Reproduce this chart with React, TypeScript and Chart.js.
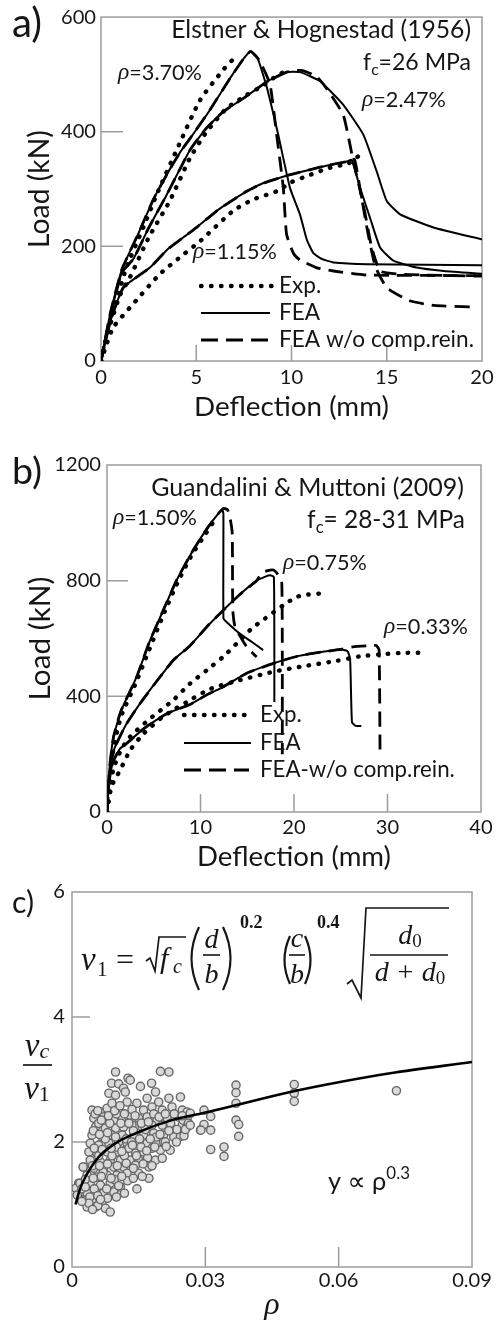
import React, { useEffect, useRef } from 'react';
import { Chart, registerables } from 'chart.js';

Chart.register(...registerables);

type P = [number, number];

const SANS = 'Lato, "Open Sans", "DejaVu Sans", sans-serif';
const SERIF = '"Liberation Serif", "DejaVu Serif", serif';
const INK = '#161616';
const FRAME = '#9c9c9c';

// ---------------- Panel a: Elstner & Hognestad (1956) ----------------
const aXTicks = [0, 5, 10, 15, 20];
const aYTicks = [0, 200, 400, 600];

const aExp370: P[] = [[0, 0], [0.3, 45], [0.82, 105], [1.3, 160], [2.22, 233], [2.92, 290], [3.97, 368], [5.2, 455], [6.42, 508], [6.95, 527]];
const aFea370: P[] = [[0, 0], [0.5, 85], [1.1, 160], [2, 225], [2.75, 282], [3.5, 328], [4.15, 364], [4.67, 388], [5.72, 438], [6.77, 493], [7.5, 528], [7.85, 540], [8.2, 530], [8.7, 478], [9.3, 395], [9.92, 302], [10.45, 255], [10.8, 212], [11.15, 188], [11.6, 178], [12.2, 172], [14, 169], [20, 167]];
const aDash370: P[] = [[0, 0], [0.5, 85], [1.1, 160], [2, 225], [2.75, 282], [3.5, 328], [4.15, 364], [4.67, 388], [5.72, 438], [6.77, 493], [7.5, 528], [7.85, 540], [8.3, 525], [8.87, 483], [9.22, 395], [9.57, 302], [9.74, 221], [10.1, 188], [10.45, 176], [11.3, 163], [12.2, 157], [13.95, 150], [20, 149]];

const aExp247: P[] = [[0, 0], [0.5, 65], [1, 115], [1.52, 146], [2.5, 215], [3.62, 280], [4.67, 354], [5.55, 400], [6.6, 441], [7.65, 464], [8.52, 481], [9.2, 497], [9.75, 507]];
const aFea247: P[] = [[0, 0], [0.5, 80], [1.1, 155], [1.7, 178], [2.5, 232], [3.45, 290], [4.67, 368], [5.5, 405], [6.42, 435], [7.47, 458], [8.7, 487], [9.75, 504], [10.45, 504], [11.5, 488], [12.72, 447], [13.77, 395], [14.47, 331], [15.0, 279], [15.7, 256], [17.45, 233], [20, 212]];
const aDash247: P[] = [[0, 0], [0.5, 80], [1.1, 155], [1.7, 178], [2.5, 232], [3.45, 290], [4.67, 368], [5.5, 405], [6.42, 435], [7.47, 458], [8.7, 487], [9.75, 504], [10.5, 507], [11.3, 497], [11.85, 475], [12.72, 429], [13.25, 348], [13.77, 273], [14.21, 198], [14.65, 157], [15.5, 152], [17, 150], [20, 148]];

const aExp115: P[] = [[0, 0], [0.3, 30], [0.65, 59], [1.7, 100], [3.1, 152], [4.3, 185], [5.2, 209], [6.94, 262], [8, 282], [9.22, 296], [10, 312], [11, 325], [12, 337], [13, 345], [13.5, 357]];
const aFea115: P[] = [[0, 0], [0.5, 70], [1.17, 128], [2.57, 163], [3.5, 195], [4.3, 215], [5.02, 233], [6.2, 265], [7.65, 296], [8.5, 310], [9.92, 325], [11, 334], [12.0, 342], [12.9, 348], [13.16, 351], [13.6, 302], [14.12, 250], [14.65, 198], [15.35, 175], [16.57, 163], [18, 157], [20, 152]];
const aDash115: P[] = [[0, 0], [0.5, 70], [1.17, 128], [2.57, 163], [3.5, 195], [4.3, 215], [5.02, 233], [6.2, 265], [7.65, 296], [8.5, 310], [9.92, 325], [11, 334], [12.0, 342], [12.9, 348], [13.3, 352], [13.6, 300], [14.0, 225], [14.4, 165], [15.0, 128], [16.2, 105], [17.5, 97], [19.6, 94]];

// ---------------- Panel b: Guandalini & Muttoni (2009) ----------------
const bXTicks = [0, 10, 20, 30, 40];
const bYTicks = [0, 400, 800, 1200];

const bExp150: P[] = [[0, 0], [0.3, 110], [0.7, 220], [1.5, 330], [3, 440], [4.5, 560], [6, 680], [7.5, 790], [9, 885], [10.5, 960], [11.73, 1020]];
const bFea150: P[] = [[0, 0], [0.3, 160], [0.7, 260], [1.5, 350], [3.17, 467], [4.5, 585], [6.02, 698], [7.5, 805], [9.23, 906], [10.8, 985], [12.0, 1035], [12.35, 1045], [12.45, 1030], [12.45, 670], [12.7, 660], [14.2, 617], [15.5, 588], [16.7, 560]];
const bDash150: P[] = [[0, 0], [0.3, 160], [0.7, 260], [1.5, 350], [3.17, 467], [4.5, 585], [6.02, 698], [7.5, 805], [9.23, 906], [10.8, 985], [12.0, 1035], [12.5, 1050], [12.9, 1045], [13.2, 1010], [13.4, 960], [13.45, 700], [13.7, 640], [14.94, 571], [16.0, 536]];

const bExp075: P[] = [[0, 0], [0.3, 80], [0.7, 150], [1.5, 215], [2.46, 260], [4.5, 320], [7.09, 387], [8.88, 444], [10.66, 490], [12.44, 537], [14.22, 594], [15.5, 635], [16.9, 669], [18.86, 715], [20.3, 744], [21.5, 752], [23.1, 756]];
const bFea075: P[] = [[0, 0], [0.3, 150], [0.8, 220], [2, 300], [3.53, 375], [5.5, 460], [7.09, 525], [8.88, 575], [10.66, 640], [12.44, 698], [14.2, 752], [16.0, 800], [17.0, 815], [17.43, 819], [17.85, 812], [17.9, 380]];
const bDash075: P[] = [[0, 0], [0.3, 150], [0.8, 220], [2, 300], [3.53, 375], [5.5, 460], [7.09, 525], [8.88, 575], [10.66, 640], [12.44, 698], [14.2, 752], [16.0, 800], [16.5, 825], [17.2, 835], [17.8, 837], [18.2, 825], [18.7, 790], [18.75, 200]];

const bExp033: P[] = [[0, 0], [0.2, 40], [0.5, 90], [1.39, 144], [2.5, 215], [3.88, 270], [6, 330], [8.52, 380], [11, 425], [14.2, 456], [17.8, 485], [21, 504], [24.6, 523], [27, 538], [29.2, 545], [31.5, 550], [33.8, 551]];
const bFea033: P[] = [[0, 0], [0.2, 100], [0.6, 170], [1.39, 219], [2.1, 237], [4, 290], [6.38, 340], [8.88, 372], [10.66, 405], [12.44, 433], [14.94, 480], [17.8, 514], [20.5, 540], [22.5, 551], [24.9, 562], [25.7, 557], [26.0, 530], [26.2, 310], [26.6, 298], [27.2, 297]];
const bDash033: P[] = [[0, 0], [0.2, 100], [0.6, 170], [1.39, 219], [2.1, 237], [4, 290], [6.38, 340], [8.88, 372], [10.66, 405], [12.44, 433], [14.94, 480], [17.8, 514], [20.5, 540], [22.5, 551], [24.9, 562], [26.3, 571], [28.0, 575], [28.8, 576], [29.1, 560], [29.2, 210]];

// ---------------- Panel c: normalised shear strength vs rho ----------------
const cXTicks = [0, 0.03, 0.06, 0.09];
const cYTicks = [0, 2, 4, 6];

const cFit: P[] = [[0.0008, 1.0], [0.0018, 1.25], [0.003, 1.44], [0.006, 1.76], [0.0098, 1.98], [0.015, 2.16], [0.0225, 2.35], [0.0293, 2.46], [0.0341, 2.54], [0.0491, 2.8], [0.0603, 2.96], [0.0716, 3.1], [0.09, 3.28]];

const cTests: P[] = [
  [0.0098, 3.12], [0.0126, 3.02], [0.0131, 2.99], [0.0199, 3.13], [0.0218, 3.12],
  [0.0089, 2.94], [0.0105, 2.93], [0.0116, 2.86], [0.0154, 2.89], [0.0179, 2.94],
  [0.0083, 2.78], [0.0098, 2.75], [0.012, 2.8], [0.0188, 2.8], [0.0169, 2.7], [0.0195, 2.64], [0.0218, 2.7], [0.0244, 2.72],
  [0.0045, 2.51], [0.0064, 2.48], [0.0079, 2.54], [0.009, 2.62], [0.0105, 2.48], [0.0124, 2.64], [0.0146, 2.62], [0.0161, 2.51], [0.018, 2.56], [0.0203, 2.51], [0.0225, 2.56], [0.0248, 2.51], [0.0259, 2.48],
  [0.0049, 2.38], [0.0071, 2.4], [0.0094, 2.35], [0.0113, 2.4], [0.0131, 2.43], [0.015, 2.38], [0.0169, 2.4], [0.0191, 2.35], [0.0214, 2.38], [0.024, 2.4], [0.0259, 2.38],
  [0.0053, 2.24], [0.0075, 2.22], [0.0098, 2.22], [0.0116, 2.24], [0.0135, 2.27], [0.0158, 2.24], [0.018, 2.27], [0.0203, 2.27], [0.0225, 2.22], [0.0248, 2.27], [0.0259, 2.24], [0.0289, 2.19],
  [0.0045, 2.11], [0.0068, 2.08], [0.009, 2.11], [0.0113, 2.11], [0.0139, 2.11], [0.0161, 2.11], [0.0184, 2.14], [0.0206, 2.11], [0.0229, 2.08], [0.0244, 2.09],
  [0.0041, 1.98], [0.006, 1.95], [0.0083, 1.98], [0.0105, 2.0], [0.0124, 1.98], [0.0146, 2.0], [0.0169, 1.98], [0.0191, 1.98], [0.0206, 2.0],
  [0.0038, 1.84], [0.0056, 1.82], [0.0079, 1.84], [0.0101, 1.84], [0.012, 1.87], [0.0143, 1.82], [0.0161, 1.84], [0.0199, 1.87], [0.0221, 1.87],
  [0.0041, 1.71], [0.0064, 1.68], [0.0086, 1.71], [0.0109, 1.71], [0.0131, 1.71], [0.015, 1.71], [0.0188, 1.71], [0.0203, 1.74],
  [0.0026, 1.6], [0.0049, 1.58], [0.0071, 1.58], [0.0094, 1.6], [0.0116, 1.6], [0.0143, 1.63], [0.0173, 1.6],
  [0.0034, 1.47], [0.0056, 1.44], [0.0079, 1.47], [0.0101, 1.47], [0.0124, 1.5], [0.015, 1.5], [0.0173, 1.42],
  [0.0015, 1.34], [0.0041, 1.34], [0.0064, 1.31], [0.0086, 1.34], [0.0109, 1.28], [0.0146, 1.25],
  [0.0019, 1.2], [0.0034, 1.18], [0.0053, 1.2], [0.0071, 1.18], [0.0094, 1.2],
  [0.0026, 1.07], [0.0045, 1.07], [0.0068, 1.04],
  [0.0034, 0.96], [0.0053, 0.96], [0.0075, 0.94], [0.0086, 0.88],
  [0.0009, 1.26], [0.0018, 1.34], [0.0025, 1.6],
  [0.006, 2.3], [0.0085, 2.3], [0.011, 2.3], [0.0138, 2.18], [0.0165, 2.2], [0.019, 2.08], [0.0075, 2.05], [0.01, 1.92], [0.0128, 1.9], [0.0155, 1.92], [0.018, 1.9],
  [0.006, 1.78], [0.009, 1.78], [0.0118, 1.78], [0.0145, 1.78], [0.017, 1.75], [0.007, 1.52], [0.0095, 1.4], [0.0125, 1.38], [0.005, 1.25], [0.0078, 1.25], [0.004, 1.12], [0.0058, 0.98], [0.0022, 1.25],
  [0.01, 2.45], [0.0135, 2.52], [0.023, 2.45], [0.021, 2.0], [0.0235, 2.0], [0.025, 2.35], [0.0262, 2.3], [0.0252, 2.1],
  [0.0052, 2.45], [0.0058, 2.5], [0.0066, 2.35], [0.0082, 2.42], [0.0096, 2.5], [0.0108, 2.58], [0.0118, 2.45], [0.0128, 2.3], [0.0142, 2.42], [0.0156, 2.3], [0.0172, 2.32], [0.0184, 2.45], [0.0196, 2.4], [0.021, 2.45], [0.0222, 2.3], [0.0236, 2.2], [0.0248, 2.42], [0.0255, 2.2],
  [0.0048, 2.18], [0.0062, 2.12], [0.008, 2.15], [0.0098, 2.08], [0.0122, 2.05], [0.0134, 2.0], [0.0152, 2.05], [0.0176, 2.05], [0.0198, 2.12], [0.0218, 2.18],
  [0.005, 1.9], [0.0068, 1.88], [0.0088, 1.9], [0.0112, 1.85], [0.0136, 1.95], [0.0168, 1.86], [0.0186, 1.92], [0.0212, 1.93],
  [0.0046, 1.62], [0.0062, 1.62], [0.008, 1.65], [0.0102, 1.62], [0.0122, 1.66], [0.0138, 1.58], [0.016, 1.65], [0.018, 1.62],
  [0.003, 1.4], [0.0048, 1.42], [0.0066, 1.45], [0.0088, 1.42], [0.0112, 1.45], [0.0138, 1.42], [0.0158, 1.45],
  [0.0012, 1.15], [0.003, 1.28], [0.0058, 1.14], [0.008, 1.1], [0.01, 1.12], [0.0038, 1.02], [0.0064, 1.08], [0.0046, 0.92], [0.0022, 1.05], [0.0105, 1.3], [0.0118, 1.18],
  [0.0266, 2.46], [0.0266, 2.27], [0.0297, 2.51], [0.0312, 2.41], [0.0297, 2.28], [0.029, 2.19], [0.0312, 2.19], [0.0312, 1.88], [0.0342, 1.92], [0.0342, 1.77],
  [0.0369, 2.91], [0.0369, 2.79], [0.0369, 2.62], [0.0369, 2.35], [0.0375, 2.28], [0.0375, 2.09],
  [0.05, 2.92], [0.05, 2.78], [0.05, 2.65], [0.073, 2.82],
];

// ---------------- helpers ----------------
const toXY = (d: P[]) => d.map(([x, y]) => ({ x, y }));

let measurer: CanvasRenderingContext2D | null = null;
function textW(text: string, font: string): number {
  if (!measurer) measurer = document.createElement('canvas').getContext('2d');
  measurer!.font = font;
  return measurer!.measureText(text).width;
}
// font size (px) that makes `text` span `target` pixels
function fitSize(text: string, family: string, target: number, style = ''): number {
  return (100 * target) / textW(text, `${style} 100px ${family}`);
}

function lineDs(d: P[], kind: 'dot' | 'solid' | 'dash') {
  const base: any = {
    data: toXY(d), showLine: true, pointRadius: 0, pointHoverRadius: 0, fill: false,
    borderColor: '#000', tension: 0.15,
  };
  if (kind === 'dot') return { ...base, borderWidth: 4.4, borderDash: [0.5, 9.5], borderCapStyle: 'round', tension: 0.2 };
  if (kind === 'dash') return { ...base, borderWidth: 2.8, borderDash: [15, 8], borderCapStyle: 'butt' };
  return { ...base, borderWidth: 2 };
}

type Part = { t: string; fam: string; s: number; st?: string; dy?: number };
const fontOf = (p: Part, k: number) => `${p.st || ''} ${p.s * k}px ${p.fam}`;
// draws a run of text pieces; when `target` is given the run is scaled to that width
function parts(ctx: CanvasRenderingContext2D, ps: Part[], x: number, y: number, align: 'left' | 'right' | 'center' = 'left', target?: number) {
  ctx.textAlign = 'left';
  ctx.textBaseline = 'middle';
  let k = 1;
  if (target) {
    const tot = ps.reduce((a, p) => a + textW(p.t, fontOf(p, 1)), 0);
    k = target / tot;
  }
  const ws = ps.map((p) => textW(p.t, fontOf(p, k)));
  const total = ws.reduce((a, b) => a + b, 0);
  let cx = align === 'left' ? x : align === 'right' ? x - total : x - total / 2;
  ps.forEach((p, i) => { ctx.font = fontOf(p, k); ctx.fillText(p.t, cx, y + (p.dy || 0) * k); cx += ws[i]; });
}

function rhoLabel(ctx: CanvasRenderingContext2D, rest: string, x: number, y: number) {
  parts(ctx, [{ t: 'ρ', fam: SERIF, st: 'italic', s: 25 }, { t: rest, fam: SANS, s: 23 }], x, y, 'left', 84);
}

function sample(ctx: CanvasRenderingContext2D, kind: 'dot' | 'solid' | 'dash', x1: number, x2: number, y: number) {
  ctx.save();
  ctx.beginPath();
  ctx.strokeStyle = '#000';
  if (kind === 'dot') { ctx.lineWidth = 4.4; ctx.setLineDash([0.5, 9.5]); ctx.lineCap = 'round'; }
  else if (kind === 'dash') { ctx.lineWidth = 2.8; ctx.setLineDash([17, 8]); ctx.lineCap = 'butt'; }
  else { ctx.lineWidth = 2; }
  ctx.moveTo(x1, y); ctx.lineTo(x2, y); ctx.stroke();
  ctx.restore();
}

function txt(ctx: CanvasRenderingContext2D, t: string, x: number, y: number, f: string, align: CanvasTextAlign = 'left') {
  ctx.font = f; ctx.textAlign = align; ctx.textBaseline = 'alphabetic'; ctx.fillText(t, x, y);
}

function seg(ctx: CanvasRenderingContext2D, pts: number[][], w = 1.5) {
  ctx.beginPath(); ctx.lineWidth = w;
  pts.forEach(([x, y], i) => (i ? ctx.lineTo(x, y) : ctx.moveTo(x, y)));
  ctx.stroke();
}

function paren(ctx: CanvasRenderingContext2D, x: number, top: number, bot: number, bulge: number) {
  ctx.beginPath(); ctx.lineWidth = 2.2;
  ctx.moveTo(x, top); ctx.quadraticCurveTo(x + bulge, (top + bot) / 2, x, bot); ctx.stroke();
}

function legend(ctx: CanvasRenderingContext2D, x1: number, x2: number, tx: number, ys: number[], last: string) {
  sample(ctx, 'dot', x1, x2 + 2, ys[0]);
  sample(ctx, 'solid', x1, x2, ys[1]);
  sample(ctx, 'dash', x1, x2 - 2, ys[2]);
  const s = fitSize(last, SANS, 195);
  parts(ctx, [{ t: 'Exp.', fam: SANS, s }], tx, ys[0]);
  parts(ctx, [{ t: 'FEA', fam: SANS, s }], tx, ys[1]);
  parts(ctx, [{ t: last, fam: SANS, s }], tx, ys[2]);
}

// ---------------- overlays ----------------
function drawA(ctx: CanvasRenderingContext2D) {
  ctx.save(); ctx.fillStyle = INK;
  parts(ctx, [{ t: 'a)', fam: SANS, s: 32 }], 12, 24, 'left', 30);
  parts(ctx, [{ t: 'Elstner & Hognestad (1956)', fam: SANS, s: 25 }], 471, 30, 'right', 300);
  parts(ctx, [{ t: 'f', fam: SANS, s: 25 }, { t: 'c', fam: SANS, s: 17, dy: 8 }, { t: '=26 MPa', fam: SANS, s: 25 }], 471, 63, 'right', 108);
  rhoLabel(ctx, '=3.70%', 118, 73);
  rhoLabel(ctx, '=2.47%', 362, 100);
  rhoLabel(ctx, '=1.15%', 193, 252);
  legend(ctx, 201, 270, 279, [286, 313, 340], 'FEA w/o comp.rein.');
  ctx.restore();
}

function drawB(ctx: CanvasRenderingContext2D) {
  ctx.save(); ctx.fillStyle = INK;
  parts(ctx, [{ t: 'b)', fam: SANS, s: 32 }], 12, 52, 'left', 30);
  parts(ctx, [{ t: 'Guandalini & Muttoni (2009)', fam: SANS, s: 25 }], 464, 68, 'right', 313);
  parts(ctx, [{ t: 'f', fam: SANS, s: 25 }, { t: 'c', fam: SANS, s: 17, dy: 8 }, { t: '= 28-31 MPa', fam: SANS, s: 25 }], 465, 100, 'right', 158);
  rhoLabel(ctx, '=1.50%', 113, 98);
  rhoLabel(ctx, '=0.75%', 283, 143);
  rhoLabel(ctx, '=0.33%', 384, 207);
  legend(ctx, 184, 251, 260, [295, 323, 350], 'FEA-w/o comp.rein.');
  ctx.restore();
}

function drawC(ctx: CanvasRenderingContext2D) {
  ctx.save(); ctx.fillStyle = INK; ctx.strokeStyle = INK;
  parts(ctx, [{ t: 'c)', fam: SANS, s: 32 }], 12, 33, 'left', 22);
  const it = (s: number) => `italic ${s}px ${SERIF}`;
  const rm = (s: number) => `${s}px ${SERIF}`;
  // v1 = sqrt(fc) (d/b)^0.2 (c/b)^0.4 sqrt(d0/(d+d0))
  txt(ctx, 'v', 81, 100, it(33));
  txt(ctx, '1', 97, 106, rm(21));
  txt(ctx, '=', 116, 100, rm(32));
  seg(ctx, [[146, 91], [150, 88], [155, 101], [159, 67], [186, 67]], 1.7);
  txt(ctx, 'f', 160, 98, it(30));
  txt(ctx, 'c', 173, 103, it(20));
  paren(ctx, 199, 57, 120, -15);
  txt(ctx, 'd', 211.5, 78, it(28), 'center');
  seg(ctx, [[203, 85], [220, 85]], 1.6);
  txt(ctx, 'b', 211.5, 113, it(28), 'center');
  paren(ctx, 223, 57, 120, 15);
  txt(ctx, '0.2', 240, 58, `bold 18px ${SERIF}`);
  paren(ctx, 290, 66, 114, -11);
  txt(ctx, 'c', 297, 77, it(28), 'center');
  seg(ctx, [[289, 85], [305, 85]], 1.6);
  txt(ctx, 'b', 297, 113, it(28), 'center');
  paren(ctx, 305, 66, 114, 11);
  txt(ctx, '0.4', 317, 58, `bold 18px ${SERIF}`);
  seg(ctx, [[347, 114], [352, 110], [361, 128], [366, 38], [449, 38]], 1.7);
  parts(ctx, [{ t: 'd', fam: SERIF, st: 'italic', s: 28, dy: -11 }, { t: '0', fam: SERIF, s: 19, dy: -6 }], 410, 78, 'center');
  seg(ctx, [[370, 85], [448, 85]], 1.6);
  parts(ctx, [{ t: 'd + d', fam: SERIF, st: 'italic', s: 28, dy: -11 }, { t: '0', fam: SERIF, s: 19, dy: -6 }], 410, 115, 'center');
  // y-axis title  v_c / v_1
  parts(ctx, [{ t: 'v', fam: SERIF, st: 'italic', s: 33, dy: -8 }, { t: 'c', fam: SERIF, st: 'italic', s: 22, dy: -3 }], 37, 185, 'center');
  seg(ctx, [[23, 195], [52, 195]], 1.7);
  parts(ctx, [{ t: 'v', fam: SERIF, st: 'italic', s: 33, dy: -8 }, { t: '1', fam: SERIF, s: 22, dy: -3 }], 37, 228, 'center');
  // power law note
  parts(ctx, [{ t: 'y ∝ ρ', fam: SANS, s: 24 }, { t: '0.3', fam: SANS, s: 16, dy: -8 }], 328, 312, 'left', 82);
  ctx.restore();
}

// ---------------- chart config builder ----------------
function framePlugin(xIn: number[], yIn: number[], xLen: number, yLen: number) {
  return {
    id: 'frameTicks',
    beforeDatasetsDraw(chart: any) {
      const { ctx, chartArea: a, scales } = chart;
      ctx.save();
      ctx.strokeStyle = FRAME; ctx.lineWidth = 1.5;
      ctx.strokeRect(a.left, a.top, a.right - a.left, a.bottom - a.top);
      ctx.beginPath();
      xIn.forEach((v) => { const px = scales.x.getPixelForValue(v); ctx.moveTo(px, a.bottom); ctx.lineTo(px, a.bottom - xLen); });
      yIn.forEach((v) => { const py = scales.y.getPixelForValue(v); ctx.moveTo(a.left, py); ctx.lineTo(a.left + yLen, py); });
      ctx.stroke();
      ctx.restore();
    },
  };
}

function axis(ticks: number[], min: number, max: number, fit: (s: any) => void, pad: number, title: any, pos: 'x' | 'y') {
  const size = fitSize('600', SANS, 35);
  return {
    type: 'linear', position: pos === 'x' ? 'bottom' : 'left', min, max,
    afterBuildTicks: (s: any) => { s.ticks = ticks.map((v) => ({ value: v })); },
    afterFit: fit,
    grid: { display: false, drawTicks: false },
    border: { display: false },
    ticks: { color: INK, font: { family: SANS, size, lineHeight: 1.2 }, padding: pad, maxRotation: 0, autoSkip: false, callback: (v: any) => String(v) },
    title,
  };
}

function sansTitle(text: string, left: boolean, target: number, centre: number) {
  const size = fitSize(text, SANS, target);
  // distance from the outer edge of the axis box to the title centre
  const pad = centre - size / 2;
  return {
    display: true, text, color: INK,
    font: { family: SANS, size, lineHeight: 1 },
    padding: left ? { top: pad, bottom: 0 } : { top: 0, bottom: pad },
  };
}

function configA() {
  return {
    type: 'scatter',
    data: {
      datasets: [
        lineDs(aDash370, 'dash'), lineDs(aDash247, 'dash'), lineDs(aDash115, 'dash'),
        lineDs(aFea370, 'solid'), lineDs(aFea247, 'solid'), lineDs(aFea115, 'solid'),
        lineDs(aExp370, 'dot'), lineDs(aExp247, 'dot'), lineDs(aExp115, 'dot'),
      ],
    },
    options: {
      responsive: false, animation: false, devicePixelRatio: 1, events: [],
      layout: { padding: { top: 15, right: 21, left: 0, bottom: 0 } },
      plugins: { legend: { display: false }, tooltip: { enabled: false } },
      scales: {
        x: axis(aXTicks, 0, 20, (s: any) => { s.height = 59; }, 4, sansTitle('Deflection (mm)', false, 195, 13), 'x'),
        y: axis(aYTicks, 0, 600, (s: any) => { s.width = 101; }, 5, sansTitle('Load (kN)', true, 118, 40), 'y'),
      },
    },
    plugins: [framePlugin(aXTicks.slice(1, -1), aYTicks.slice(1, -1), 16, 22), { id: 'ovA', afterDraw: (c: any) => drawA(c.ctx) }],
  };
}

function configB() {
  return {
    type: 'scatter',
    data: {
      datasets: [
        lineDs(bDash150, 'dash'), lineDs(bDash075, 'dash'), lineDs(bDash033, 'dash'),
        lineDs(bFea150, 'solid'), lineDs(bFea075, 'solid'), lineDs(bFea033, 'solid'),
        lineDs(bExp150, 'dot'), lineDs(bExp075, 'dot'), lineDs(bExp033, 'dot'),
      ],
    },
    options: {
      responsive: false, animation: false, devicePixelRatio: 1, events: [],
      layout: { padding: { top: 45, right: 22, left: 0, bottom: 0 } },
      plugins: { legend: { display: false }, tooltip: { enabled: false } },
      scales: {
        x: axis(bXTicks, 0, 40, (s: any) => { s.height = 58; }, 3, sansTitle('Deflection (mm)', false, 194, 13), 'x'),
        y: axis(bYTicks, 0, 1200, (s: any) => { s.width = 107; }, 6, sansTitle('Load (kN)', true, 124, 40), 'y'),
      },
    },
    plugins: [framePlugin(bXTicks.slice(1, -1), bYTicks.slice(1, -1), 18, 21), { id: 'ovB', afterDraw: (c: any) => drawB(c.ctx) }],
  };
}

function configC() {
  return {
    type: 'scatter',
    data: {
      datasets: [
        { data: toXY(cFit), showLine: true, pointRadius: 0, borderColor: '#000', borderWidth: 2.6, cubicInterpolationMode: 'monotone', fill: false },
        { data: toXY(cTests), showLine: false, pointRadius: 4.1, pointBackgroundColor: '#d9d9d9', pointBorderColor: '#666666', pointBorderWidth: 1.4 },
      ],
    },
    options: {
      responsive: false, animation: false, devicePixelRatio: 1, events: [],
      layout: { padding: { top: 22, right: 31, left: 0, bottom: 0 } },
      plugins: { legend: { display: false }, tooltip: { enabled: false } },
      scales: {
        x: axis(cXTicks, 0, 0.09, (s: any) => { s.height = 53; }, 1, {
          display: true, text: 'ρ', color: INK, font: { family: SERIF, style: 'italic', size: 32, lineHeight: 1 }, padding: { top: 0, bottom: -2 },
        }, 'x'),
        y: axis(cYTicks, 0, 6, (s: any) => { s.width = 72; }, 7, { display: false }, 'y'),
      },
    },
    plugins: [framePlugin(cXTicks.slice(1, -1), cYTicks.slice(1, -1), 20, 18), { id: 'ovC', afterDraw: (c: any) => drawC(c.ctx) }],
  };
}

function ChartCanvas({ top, height, make }: { top: number; height: number; make: () => any }) {
  const ref = useRef<HTMLCanvasElement>(null);
  useEffect(() => {
    const chart = new Chart(ref.current as HTMLCanvasElement, make());
    return () => chart.destroy();
  }, []);
  return (
    <canvas
      ref={ref}
      width={503}
      height={height}
      style={{ position: 'absolute', left: 0, top, width: 503, height, display: 'block' }}
    />
  );
}

export default function App() {
  return (
    <div style={{ position: 'absolute', left: 0, top: 0, width: 503, height: 1320, background: '#fff', overflow: 'hidden' }}>
      <ChartCanvas top={0} height={420} make={configA} />
      <ChartCanvas top={420} height={450} make={configB} />
      <ChartCanvas top={870} height={450} make={configC} />
    </div>
  );
}
